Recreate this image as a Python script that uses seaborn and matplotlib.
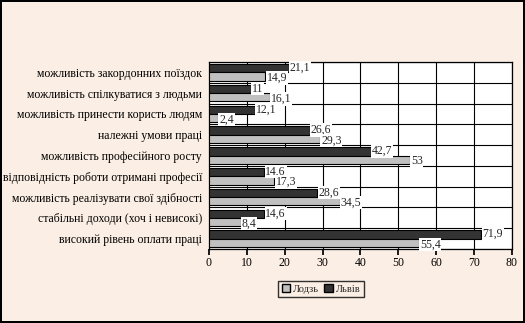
import matplotlib
matplotlib.use("Agg")
import matplotlib.pyplot as plt
import seaborn as sns
import pandas as pd
from matplotlib.patches import Patch

categories = [
    "можливість закордонних поїздок",
    "можливість спілкуватися з людьми",
    "можливість принести користь людям",
    "належні умови праці",
    "можливість професійного росту",
    "відповідність роботи отримані професії",
    "можливість реалізувати свої здібності",
    "стабільні доходи (хоч і невисокі)",
    "високий рівень оплати праці",
]
lviv = [21.1, 11, 12.1, 26.6, 42.7, 14.6, 28.6, 14.6, 71.9]
lodz = [14.9, 16.1, 2.4, 29.3, 53, 17.3, 34.5, 8.4, 55.4]
x_ticks = [0, 10, 20, 30, 40, 50, 60, 70, 80]

df = pd.DataFrame({
    "cat": categories * 2,
    "value": lviv + lodz,
    "city": ["Львів"] * len(categories) + ["Лодзь"] * len(categories),
})

sns.set_theme(style="white")
plt.rcParams["font.family"] = ["Liberation Serif", "DejaVu Serif"]

bg = "#FBEEE4"
c_lviv = "#333333"
c_lodz = "#C0C0C0"

fig = plt.figure(figsize=(5.25, 3.23), dpi=100, facecolor=bg)
fig.patch.set_edgecolor("black")
fig.patch.set_linewidth(1.5)
ax = fig.add_axes([0.398, 0.229, 0.577, 0.579])
ax.set_facecolor("white")

sns.barplot(data=df, y="cat", x="value", hue="city", hue_order=["Львів", "Лодзь"],
            palette={"Львів": c_lviv, "Лодзь": c_lodz}, orient="h", width=0.8,
            edgecolor="black", linewidth=0.8, ax=ax, legend=False, zorder=3)

ax.set_xlim(0, 80)
ax.set_ylim(len(categories) - 0.5, -0.5)
ax.set_xticks(x_ticks)
ax.set_xticklabels([str(t) for t in x_ticks], fontsize=8.5)
ax.set_yticks(range(len(categories)))
ax.set_yticklabels(categories, fontsize=8.5)
ax.set_xlabel("")
ax.set_ylabel("")
ax.tick_params(axis="x", length=4, direction="out", bottom=True, pad=2, colors="black")
ax.tick_params(axis="y", length=0, pad=5, colors="black")
for t in ax.get_xticklabels() + ax.get_yticklabels():
    t.set_color("black")

for x in x_ticks[1:]:
    ax.axvline(x, color="black", lw=0.8, zorder=1)
for i in range(len(categories) + 1):
    ax.axhline(i - 0.5, color="black", lw=0.8, zorder=1)
for s in ax.spines.values():
    s.set_visible(True)
    s.set_color("black")
    s.set_linewidth(0.9)

def fmt(v):
    return ("%g" % v).replace(".", ",")

for i, (a, b) in enumerate(zip(lviv, lodz)):
    ax.text(a + 0.3, i - 0.22, fmt(a), fontsize=8.5, va="center", ha="left", zorder=5,
            bbox=dict(facecolor="white", edgecolor="none", pad=0.5))
    ax.text(b + 0.3, i + 0.27, fmt(b), fontsize=8.5, va="center", ha="left", zorder=5,
            bbox=dict(facecolor="white", edgecolor="none", pad=0.5))

handles = [Patch(facecolor=c_lodz, edgecolor="black", label="Лодзь"),
           Patch(facecolor=c_lviv, edgecolor="black", label="Львів")]
leg = fig.legend(handles=handles, loc="center", bbox_to_anchor=(321 / 525, 1 - 289 / 323),
                 ncol=2, fontsize=7.5, frameon=True, fancybox=False, edgecolor="black",
                 handlelength=0.8, handleheight=0.8, handletextpad=0.3, columnspacing=0.5,
                 borderpad=0.35)
leg.get_frame().set_linewidth(1.0)
leg.get_frame().set_facecolor(bg)

fig.savefig("out.png", dpi=100, facecolor=bg, edgecolor="black")
